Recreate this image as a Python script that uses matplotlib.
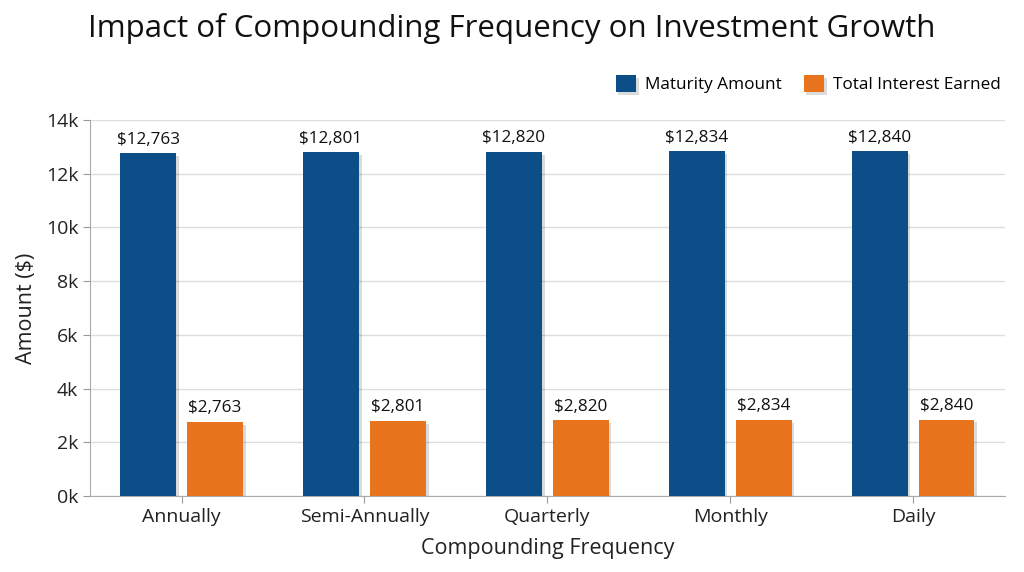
import numpy as np
import matplotlib.pyplot as plt
import matplotlib.patheffects as pe
from matplotlib.ticker import FuncFormatter

plt.rcParams['font.family'] = ['Open Sans', 'DejaVu Sans']

# dados
frequencias = ["Annually", "Semi-Annually", "Quarterly", "Monthly", "Daily"]
montante = [12763, 12801, 12820, 12834, 12840]
juros = [2763, 2801, 2820, 2834, 2840]

cor_azul = "#0C4E88"
cor_laranja = "#E8741E"

fig = plt.figure(figsize=(10.24, 5.72), dpi=100)
ax = fig.add_axes([0.088, 0.133, 0.893, 0.657])

x = np.arange(len(frequencias))
larg = 0.305
desl = 0.183
sombra = [pe.SimplePatchShadow(offset=(2, -2), shadow_rgbFace='k', alpha=0.14), pe.Normal()]

b1 = ax.bar(x - desl, montante, larg, color=cor_azul, label="Maturity Amount",
            zorder=3, path_effects=sombra)
b2 = ax.bar(x + desl, juros, larg, color=cor_laranja, label="Total Interest Earned",
            zorder=3, path_effects=sombra)

for barras in (b1, b2):
   for r in barras:
      v = r.get_height()
      ax.annotate(f"${v:,.0f}", (r.get_x() + r.get_width() / 2, v),
                  xytext=(0, 4), textcoords="offset points",
                  ha="center", va="bottom", fontsize=12.3, color="#111111")

ax.set_xlim(-0.5, 4.5)
ax.set_ylim(0, 14000)
ax.set_yticks(np.arange(0, 14001, 2000))
ax.yaxis.set_major_formatter(FuncFormatter(lambda v, p: f"{int(v / 1000)}k"))
ax.set_xticks(x)
ax.set_xticklabels(frequencias)
ax.tick_params(axis="both", labelsize=14, colors="#999999", labelcolor="#222222", length=5)

ax.grid(axis="y", color="#dddddd", linewidth=1, zorder=0)
for lado in ("top", "right"):
   ax.spines[lado].set_visible(False)
for lado in ("left", "bottom"):
   ax.spines[lado].set_color("#aaaaaa")

ax.set_xlabel("Compounding Frequency", fontsize=15.5, color="#222222", labelpad=9)
ax.set_ylabel("Amount ($)", fontsize=15.5, color="#222222", labelpad=6)

fig.text(0.5, 0.95, "Impact of Compounding Frequency on Investment Growth",
         ha="center", va="center", fontsize=22.5, color="#111111")

leg = fig.legend(handles=[b1, b2], loc="center right", bbox_to_anchor=(0.992, 0.853),
                 ncol=2, frameon=False, fontsize=12.3, handlelength=1.2, handleheight=1.2,
                 columnspacing=1.3, handletextpad=0.5)

fig.savefig("out.png", dpi=100)
